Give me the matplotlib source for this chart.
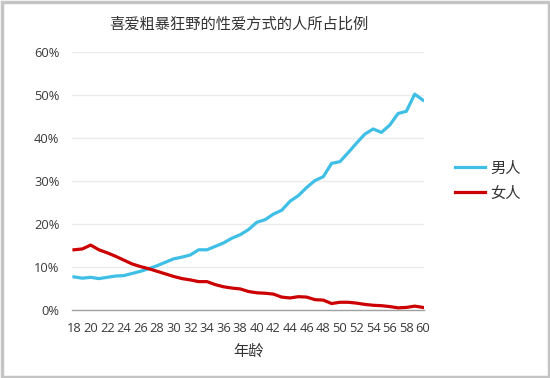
import matplotlib
matplotlib.use("Agg")
import matplotlib.pyplot as plt
from matplotlib.ticker import FuncFormatter
from matplotlib.patches import Rectangle

plt.rcParams['font.family'] = ['Open Sans', 'Noto Sans CJK SC', 'DejaVu Sans']

title = "喜爱粗暴狂野的性爱方式的人所占比例"
xlabel = "年龄"
series_names = ["男人", "女人"]
ages = list(range(18, 61))
male = [7.7, 7.4, 7.6, 7.3, 7.6, 7.9, 8.0, 8.5, 9.0, 9.6, 10.3, 11.1, 11.9, 12.3, 12.8,
        14.0, 14.0, 14.8, 15.6, 16.7, 17.5, 18.7, 20.4, 21.0, 22.3, 23.2, 25.3, 26.6,
        28.5, 30.1, 31.0, 34.1, 34.5, 36.6, 38.8, 40.9, 42.1, 41.3, 43.0, 45.7, 46.2,
        50.2, 48.8]
female = [14.0, 14.2, 15.1, 14.0, 13.3, 12.5, 11.6, 10.7, 10.1, 9.6, 9.0, 8.4, 7.8, 7.3,
          7.0, 6.6, 6.6, 5.9, 5.4, 5.1, 4.9, 4.3, 4.0, 3.9, 3.7, 3.0, 2.8, 3.1, 3.0, 2.4,
          2.3, 1.5, 1.8, 1.8, 1.6, 1.3, 1.1, 1.0, 0.8, 0.5, 0.6, 0.9, 0.6]
xticks = list(range(18, 61, 2))
yticks = [0, 10, 20, 30, 40, 50, 60]

W, H = 550, 378
fig = plt.figure(figsize=(W / 100, H / 100), dpi=100)
fig.patch.set_facecolor('white')

# outer frame
fig.add_artist(Rectangle((1.5 / W, 1.5 / H), 1 - 3 / W, 1 - 3 / H, transform=fig.transFigure,
                         fill=False, edgecolor='#c4c4c4', linewidth=2.5))

ax = fig.add_axes([72 / W, 1 - 310 / H, (424 - 72) / W, (310 - 52) / H])
ax.plot(ages, male, color='#3fbfe6', linewidth=2.3, label=series_names[0], solid_joinstyle='round')
ax.plot(ages, female, color='#cc0000', linewidth=2.3, label=series_names[1], solid_joinstyle='round')

ax.set_xlim(18 - 2 / 8.31, 60 + 1 / 8.31)
ax.set_ylim(0, 60)
ax.set_xticks(xticks)
ax.set_yticks(yticks)
ax.yaxis.set_major_formatter(FuncFormatter(lambda v, p: f"{int(v)}%"))
ax.tick_params(axis='both', length=0, labelsize=9.3, colors='#3a3a3a')
ax.tick_params(axis='x', pad=9)
ax.tick_params(axis='y', pad=9)
ax.grid(axis='y', color='#ebebeb', linewidth=1)
ax.set_axisbelow(True)
for s in ['top', 'right', 'left']:
    ax.spines[s].set_visible(False)
ax.spines['bottom'].set_color('#a0a0a0')
ax.spines['bottom'].set_linewidth(1)
ax.spines['bottom'].set_zorder(1)

ax.set_xlabel(xlabel, fontsize=11, color='#333333', labelpad=7, fontweight='medium')
fig.text(239 / W, 1 - 25 / H, title, ha='center', va='center', fontsize=11, color='#333333',
         fontweight='medium')

leg = ax.legend(loc='center left', bbox_to_anchor=(441 / W, 1 - 181.5 / H), bbox_transform=fig.transFigure,
                frameon=False, fontsize=11, handlelength=2.0, handletextpad=0.35, labelspacing=0.65)
for t in leg.get_texts():
    t.set_color('#333333')

fig.savefig('out.png', dpi=100, facecolor='white')
